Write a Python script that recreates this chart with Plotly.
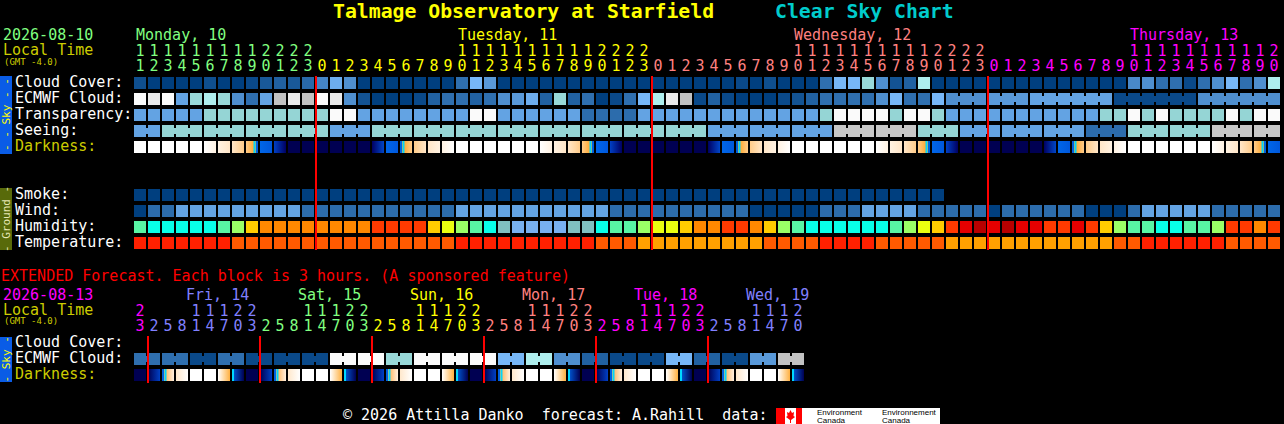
import plotly.graph_objects as go

# ------------------------------------------------------------------ data
# main forecast: one block per hour, Mon 10 11:00 .. Thu 13 20:00
main_days = ["Monday, 10", "Tuesday, 11", "Wednesday, 12", "Thursday, 13"]
main_day_colors = ["#80ff80", "#ffff00", "#ff8080", "#ff00ff"]
main_day_hours = [list(range(11, 24)), list(range(24)), list(range(24)), list(range(21))]

# cloud cover, percent
cloud_cover = ([8, 0, 0, 0, 0, 8, 0, 0, 5, 12, 15, 12, 18]
               + [27, 45, 30, 0, 0, 0, 0, 0, 0, 0, 20, 50, 35, 0, 0, 0, 0, 0, 0, 0, 0, 0, 0, 0]
               + [0, 0, 0, 0, 0, 0, 5, 0, 8, 0, 0, 0, 20, 50, 50, 60, 30, 10, 15, 70, 0, 0, 0, 0]
               + [0, 0, 0, 0, 0, 0, 0, 0, 0, 0, 28, 30, 20, 20, 5, 20, 30, 50, 20, 30, 70])
ecmwf_cloud = ([100, 90, 100, 40, 60, 70, 60, 30, 20, 40, 80, 90, 80]
               + [100, 90, 30, 10, 0, 0, 0, 5, 15, 20, 20, 15, 20, 30, 35, 45, 15, 60, 15, 20, 0, 5, 20, 50]
               + [70, 90, 80, 5, 15, 5, 0, 0, 0, 5, 10, 15, 20, 20, 20, 20, 30, 50, 20, 20, 50, 30, 30, 30]
               + [35, 35, 35, 40, 40, 40, 40, 40, 40, 5, 5, 5, 5, 5, 5, 30, 30, 30, 30, 30, 30])
# 0 too cloudy .. 5 transparent
transparency = ([3, 3, 3, 3, 3, 2, 2, 2, 2, 2, 2, 2, 2]
                + [2, 0, 0, 3, 3, 3, 3, 3, 3, 3, 3, 0, 0, 3, 3, 3, 3, 3, 3, 4, 4, 4, 4, 3]
                + [3, 3, 3, 3, 3, 3, 3, 3, 3, 3, 3, 3, 2, 0, 0, 0, 0, 2, 0, 0, 2, 3, 3, 3]
                + [3, 3, 3, 3, 3, 3, 3, 3, 2, 2, 0, 2, 0, 2, 2, 2, 2, 0, 2, 0, 0])
# 0 too cloudy, 1 bad .. 5 excellent
seeing = ([3, 3, 2, 2, 2, 2, 2, 2, 2, 2, 2, 2, 2]
          + [2, 3, 3, 3, 2, 2, 2, 2, 2, 2, 2, 2, 2, 2, 2, 2, 2, 2, 2, 2, 2, 2, 2, 2]
          + [2, 2, 2, 2, 3, 3, 3, 3, 3, 3, 3, 3, 3, 1, 1, 1, 1, 1, 1, 2, 2, 2, 3, 3]
          + [3, 3, 3, 3, 3, 3, 3, 4, 4, 4, 2, 2, 2, 2, 2, 2, 1, 1, 1, 1, 1])
# darkness codes, see DARK below
darkness = (list("WWWWWwcpsbdnn")
            + list("nnnnubrkefWWWWWWwcpsbdnn")
            + list("nnnnubrkefWWWWWWwcpsbdnn")
            + list("nnnnubrkefWWWWWWwcpsb"))
smoke = ([0, 0, 0, 0, 0, 0, 0, 0, 0, 0, 0, 0, 0]
         + [0, 0, 0, 0, 0, 0, 0, 0, 0, 0, 0, 0, 0, 0, 0, 0, 0, 0, 0, 0, 0, 0, 0, 0]
         + [0, 0, 0, 0, 0, 0, 0, 0, 0, 0, 0, 0, 0, 0, 0, 0, 0, 0, 0, 0, 0])
# 0 calm, 1 light, 2 breezy
wind = ([0, 1, 1, 2, 2, 2, 2, 2, 2, 2, 2, 2, 1]
        + [1, 1, 1, 1, 1, 1, 1, 1, 1, 1, 2, 2, 2, 2, 2, 2, 2, 2, 2, 2, 2, 1, 1, 1]
        + [1, 1, 1, 1, 1, 1, 1, 0, 0, 0, 0, 0, 1, 1, 1, 2, 2, 2, 2, 1, 1, 1, 1, 1]
        + [0, 1, 1, 1, 1, 1, 1, 0, 0, 0, 1, 2, 2, 2, 2, 2, 1, 1, 1, 1, 1])
# humidity level, 0 driest .. 10 wettest
humidity = ([3, 2, 2, 2, 2, 2, 3, 4, 6, 7, 7, 7, 7]
            + [7, 7, 7, 7, 8, 8, 8, 8, 6, 5, 4, 3, 2, 1, 0, 0, 0, 0, 1, 1, 2, 3, 3, 4]
            + [5, 5, 6, 7, 7, 8, 8, 7, 6, 4, 3, 2, 2, 2, 2, 2, 2, 3, 4, 5, 6, 8, 9, 10]
            + [9, 10, 9, 9, 8, 8, 9, 8, 6, 4, 3, 3, 2, 2, 3, 3, 4, 8, 8, 7, 8])
# temperature level, 0 cooler .. 2 warmest
temperature = ([2, 2, 2, 2, 2, 2, 2, 1, 1, 1, 1, 1, 1]
               + [1, 1, 1, 1, 1, 1, 1, 1, 1, 1, 2, 2, 2, 2, 2, 2, 2, 2, 2, 2, 1, 1, 1, 0]
               + [0, 0, 0, 0, 0, 0, 0, 0, 1, 1, 1, 1, 2, 2, 2, 2, 1, 1, 1, 1, 1, 0, 0, 0]
               + [0, 0, 0, 0, 0, 0, 0, 0, 0, 1, 1, 2, 2, 2, 2, 2, 2, 1, 1, 1, 1])

# extended forecast: one block per 3 hours, Thu 13 23:00 .. Wed 19 20:00
ext_days = ["", "Fri, 14", "Sat, 15", "Sun, 16", "Mon, 17", "Tue, 18", "Wed, 19"]
ext_day_colors = ["#ff00ff", "#8080ff", "#80ff80", "#ffff00", "#ff8080", "#ff00ff", "#8080ff"]
ext_day_hours = [[23], [2, 5, 8, 11, 14, 17, 20, 23], [2, 5, 8, 11, 14, 17, 20, 23],
                 [2, 5, 8, 11, 14, 17, 20, 23], [2, 5, 8, 11, 14, 17, 20, 23],
                 [2, 5, 8, 11, 14, 17, 20, 23], [2, 5, 8, 11, 14, 17, 20]]
ext_ecmwf_cloud = [20, 20, 20, 20, 5, 5, 20, 20, 5, 5, 5, 5, 5, 5, 100, 100,
                   100, 100, 60, 60, 100, 100, 100, 100, 100, 100, 50, 50, 70, 70, 30, 30,
                   15, 15, 5, 5, 5, 5, 50, 50, 15, 15, 5, 5, 35, 35, 80, 80]
ext_darkness = list("nURKWWSDnURKWWSDnURKWWSDnURKWWSDnURKWWSDnURKWWSD")

# ------------------------------------------------------------------ styles
MONO = "DejaVu Sans Mono"
W, H = 1284, 424
PX0, PITCH, BLOCK = 134, 14, 12
ROW = dict(cloud=83, ecmwf=99, transp=115, seeing=131, dark=147,
           smoke=195, wind=211, hum=227, temp=243,
           x_cloud=343, x_ecmwf=359, x_dark=375)

CLOUD_SCALE = [[0.0, "#003f7f"], [0.1, "#135393"], [0.2, "#2f6faf"], [0.3, "#4f8fcf"],
               [0.4, "#63a3e3"], [0.5, "#77b7f7"], [0.6, "#99d9d9"], [0.7, "#aeeeee"],
               [0.8, "#c2c2c2"], [0.9, "#eaeaea"], [1.0, "#fbfbfb"]]
TRANSP_COLORS = ["#fafafa", "#c2c2c2", "#95d5d5", "#63a3e3", "#2c6cac", "#003f7f"]
SEEING_COLORS = ["#fafafa", "#c7c7c7", "#95d5d5", "#63a3e3", "#2c6cac", "#003f7f"]
SMOKE_COLORS = ["#003f7f"]
WIND_COLORS = ["#003f7f", "#2c6cac", "#63a3e3"]
HUM_COLORS = ["#78b0f0", "#80c0c0", "#08ffe8", "#58f5a4", "#9aff66", "#eaff10",
              "#ffcc00", "#ff8800", "#ff3a00", "#e60000", "#b80000"]
TEMP_COLORS = ["#ffa000", "#ff5a00", "#ff2000"]
DARK = {  # left colour, right colour of each block
    "W": ("#ffffff", "#ffffff"), "w": ("#ffffff", "#fff2e2"),
    "c": ("#fff2e2", "#ffe6c8"), "p": ("#ffe6c8", "#ffcc8a"),
    "s": ("#ffcc8a", "#ff9808"), "b": ("#0066e8", "#0058dc"),
    "d": ("#0040c4", "#000062"), "n": ("#000052", "#000052"),
    "u": ("#000062", "#0046c8"), "r": ("#ff9808", "#ffcc8a"),
    "k": ("#ffcc8a", "#ffe6c8"), "e": ("#ffe6c8", "#fff2e2"),
    "f": ("#fff2e2", "#ffffff"),
    "U": ("#000052", "#0040c4"), "R": ("#ffa030", "#fff0e0"),
    "K": ("#ffe8cc", "#ffffff"), "S": ("#ffffff", "#ffb040"),
    "D": ("#0060e0", "#000052"),
}
ACCENT = {  # thin stripes inside sunrise / sunset blocks: (offset px, colour)
    "s": [(2.5, "#00d8ff"), (5, "#0060e0")],
    "r": [(-5, "#0060e0"), (-2.5, "#00d8ff")],
    "R": [(-5, "#0060e0"), (-2.5, "#00d8ff")],
    "D": [(-5, "#00d8ff")],
}


def X(px):
    return (px - PX0 - BLOCK / 2) / PITCH


def flat(groups):
    return [v for g in groups for v in g]


m_hours = flat(main_day_hours)
m_day = flat([[d] * len(h) for d, h in enumerate(main_day_hours)])
mx = list(range(len(m_hours)))
e_hours = flat(ext_day_hours)
e_day = flat([[d] * len(h) for d, h in enumerate(ext_day_hours)])
ex = list(range(len(e_hours)))

traces = []


def squares(x, y, color, size=BLOCK, **marker):
    traces.append(go.Scatter(
        x=x, y=[y] * len(x), mode="markers", hoverinfo="skip",
        marker=dict(symbol="square", size=size, color=color, line=dict(width=0), **marker)))


def joined(x, y, color, link, **marker):
    # small bridge between consecutive blocks of the same forecast step
    jx = [x[a] + 0.5 for a in range(len(x) - 1) if link(a)]
    jc = [color[a] for a in range(len(x) - 1) if link(a)]
    if jx:
        squares(jx, y, jc, size=6, **marker)


def dark_row(x, codes, y):
    traces.append(go.Scatter(
        x=x, y=[y] * len(x), mode="markers", hoverinfo="skip",
        marker=dict(symbol="square", size=BLOCK, line=dict(width=0),
                    color=[DARK[c][0] for c in codes],
                    gradient=dict(type="horizontal", color=[DARK[c][1] for c in codes]))))
    ax, ac = [], []
    for xi, c in zip(x, codes):
        for off, col in ACCENT.get(c, []):
            ax.append(xi + off / PITCH)
            ac.append(col)
    traces.append(go.Scatter(
        x=ax, y=[y] * len(ax), mode="markers", hoverinfo="skip",
        marker=dict(symbol="line-ns", size=BLOCK / 1.4, color=ac, line=dict(width=2, color=ac))))


cloud_kw = dict(colorscale=CLOUD_SCALE, cmin=0, cmax=100)

# --- main sky
squares(mx, ROW["cloud"], cloud_cover, **cloud_kw)
squares(mx, ROW["ecmwf"], ecmwf_cloud, **cloud_kw)
step3 = next(i for i in mx if m_day[i] == 2 and m_hours[i] == 21)
joined(mx, ROW["ecmwf"], ecmwf_cloud,
       lambda a: a >= step3 and ecmwf_cloud[a] == ecmwf_cloud[a + 1], **cloud_kw)
squares(mx, ROW["transp"], [TRANSP_COLORS[v] for v in transparency])
see_col = [SEEING_COLORS[v] for v in seeing]
squares(mx, ROW["seeing"], see_col)
see_grp = [(24 * d + h - 1) // 3 for d, h in zip(m_day, m_hours)]
joined(mx, ROW["seeing"], see_col, lambda a: see_grp[a] == see_grp[a + 1])
dark_row(mx, darkness, ROW["dark"])

# --- main ground
squares(mx[:len(smoke)], ROW["smoke"], [SMOKE_COLORS[v] for v in smoke])
squares(mx, ROW["wind"], [WIND_COLORS[v] for v in wind])
squares(mx, ROW["hum"], [HUM_COLORS[v] for v in humidity])
squares(mx, ROW["temp"], [TEMP_COLORS[v] for v in temperature])

# --- extended
squares(ex, ROW["x_ecmwf"], ext_ecmwf_cloud, **cloud_kw)
joined(ex, ROW["x_ecmwf"], ext_ecmwf_cloud, lambda a: a // 2 == (a + 1) // 2, **cloud_kw)
dark_row(ex, ext_darkness, ROW["x_dark"])


def midnights(x, hours, first_hour, y0, y1):
    lx, ly = [], []
    for i in x[1:]:
        if hours[i] == first_hour:
            xm = i - BLOCK / 2 / PITCH
            lx += [xm, xm, None]
            ly += [y0, y1, None]
    traces.append(go.Scatter(x=lx, y=ly, mode="lines", hoverinfo="skip",
                             line=dict(color="#ff0000", width=2)))


midnights(mx, m_hours, 0, 76, 250)
midnights(ex, e_hours, 2, 336, 383)


def digits(x, hours, days, colors, y_tens, y_ones):
    tx, ty, tt, tc = [], [], [], []
    for i, h, d in zip(x, hours, days):
        if h >= 10:
            tx.append(i); ty.append(y_tens); tt.append(str(h // 10)); tc.append(colors[d])
        tx.append(i); ty.append(y_ones); tt.append(str(h % 10)); tc.append(colors[d])
    traces.append(go.Scatter(x=tx, y=ty, text=tt, mode="text", hoverinfo="skip",
                             textposition="middle center",
                             textfont=dict(family=MONO, size=15, color=tc)))


digits(mx, m_hours, m_day, main_day_colors, 52, 67)
digits(ex, e_hours, e_day, ext_day_colors, 312, 327)

# ------------------------------------------------------------------ text
ann = []


def label(px, py, text, color="#ffffff", size=15, family=MONO, **kw):
    ann.append(dict(x=X(px), y=py, xref="x", yref="y", text=text, showarrow=False,
                    xanchor=kw.pop("xanchor", "left"), yanchor="middle", borderpad=0,
                    font=dict(family=family, size=size, color=color), **kw))


label(332, 11, "<b>Talmage Observatory at Starfield</b>", "#ffff00", 19.8)
label(774, 11, "<b>Clear Sky Chart</b>", "#00cccc", 19.8)

label(2, 35, "2026-08-10", main_day_colors[0])
label(2, 50, "Local Time", "#cccc00")
label(3, 62, "(GMT -4.0)", "#cccc00", 9)
for d, name in enumerate(main_days):
    idx = [i for i in mx if m_day[i] == d]
    at = next((i for i in idx if m_hours[i] == 10), idx[0])
    label(PX0 + PITCH * at + 1, 35, name, main_day_colors[d])

for key, text, col in [("cloud", "Cloud Cover:", "#ffffff"), ("ecmwf", "ECMWF Cloud:", "#ffffff"),
                       ("transp", "Transparency:", "#ffffff"), ("seeing", "Seeing:", "#ffffff"),
                       ("dark", "Darkness:", "#cccc00"), ("smoke", "Smoke:", "#ffffff"),
                       ("wind", "Wind:", "#ffffff"), ("hum", "Humidity:", "#ffffff"),
                       ("temp", "Temperature:", "#ffffff"), ("x_cloud", "Cloud Cover:", "#ffffff"),
                       ("x_ecmwf", "ECMWF Cloud:", "#ffffff"), ("x_dark", "Darkness:", "#cccc00")]:
    label(14, ROW[key] - 1, text, col)

label(0, 276, "EXTENDED Forecast. Each block is 3 hours. (A sponsored feature)", "#ff0000")
label(2, 295, "2026-08-13", ext_day_colors[0])
label(2, 310, "Local Time", "#cccc00")
label(3, 321, "(GMT -4.0)", "#cccc00", 9)
for d, name in enumerate(ext_days):
    if not name:
        continue
    at = next(i for i in ex if e_day[i] == d and e_hours[i] == 11)
    label(PX0 + PITCH * at - 5, 295, name, ext_day_colors[d])

label(342, 415, "© 2026 Attilla Danko  forecast: A.Rahill  data:", "#ffffff")

shapes = []
for y0, y1, fill, text, tcol in [(76, 154, "#0a5ce6", "- - Sky - -", "#ffff00"),
                                 (188, 250, "#586a0a", "- Ground -", "#e6e6b4"),
                                 (337, 382, "#0a5ce6", "- Sky -", "#ffff00")]:
    shapes.append(dict(type="rect", xref="x", yref="y", x0=X(0), x1=X(12), y0=y0, y1=y1,
                       fillcolor=fill, line=dict(width=0), layer="below"))
    label(6, (y0 + y1) / 2, text, tcol, 11, textangle=-90, xanchor="center")

# Environment Canada logo
shapes.append(dict(type="rect", xref="x", yref="y", x0=X(776), x1=X(940), y0=408, y1=424,
                   fillcolor="#ffffff", line=dict(width=0)))
for a, b in [(776, 785), (796, 802)]:
    shapes.append(dict(type="rect", xref="x", yref="y", x0=X(a), x1=X(b), y0=408, y1=424,
                       fillcolor="#ff0000", line=dict(width=0)))
leaf = [(790.5, 410), (792, 413), (794, 412), (793.5, 416), (795, 417), (791, 420), (791, 423),
        (790, 423), (790, 420), (786, 417), (787.5, 416), (787, 412), (789, 413)]
shapes.append(dict(type="path", xref="x", yref="y", fillcolor="#ff0000", line=dict(width=0),
                   path="M" + " L".join(f"{X(px):.4f},{py}" for px, py in leaf) + " Z"))
for px, word in [(816, "Environment"), (881, "Environnement")]:
    label(px, 412, word, "#000000", 8, "Liberation Sans")
    label(px, 420, "Canada", "#000000", 8, "Liberation Sans")

# ------------------------------------------------------------------ figure
fig = go.Figure(traces)
fig.update_layout(
    width=W, height=H, autosize=False, margin=dict(l=0, r=0, t=0, b=0),
    paper_bgcolor="#000000", plot_bgcolor="#000000", showlegend=False,
    xaxis=dict(range=[X(0), X(W)], visible=False, fixedrange=True),
    yaxis=dict(range=[H, 0], visible=False, fixedrange=True),
    annotations=ann, shapes=shapes,
)
fig.write_html("out.html", config={"displayModeBar": False},
               post_script="document.body.style.margin='0';")
